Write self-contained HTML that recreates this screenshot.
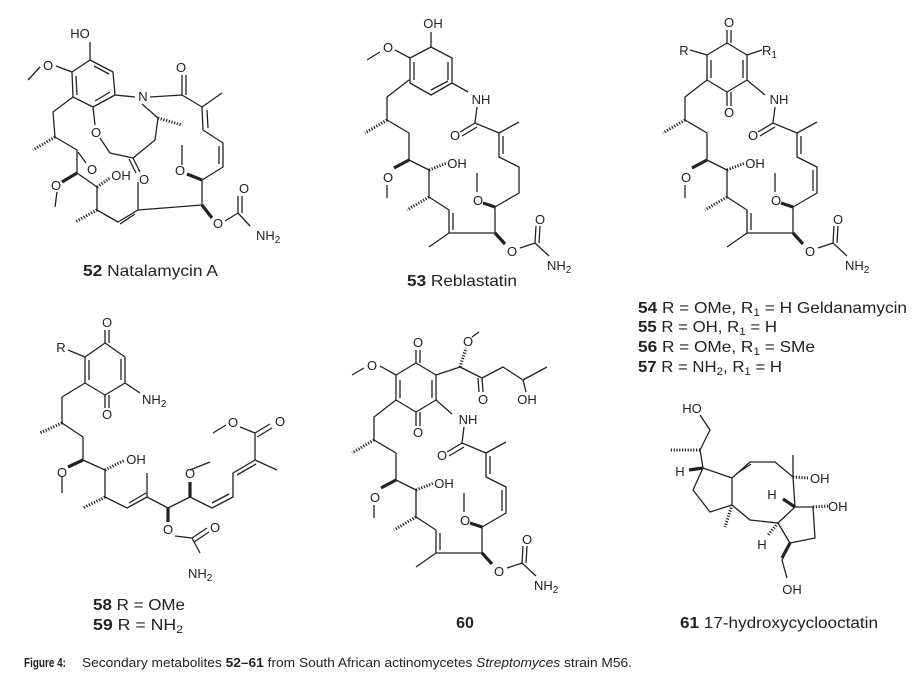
<!DOCTYPE html>
<html><head><meta charset="utf-8"><style>
html,body{margin:0;padding:0;background:#fff;}
svg{display:block;}
.b{stroke:#222;stroke-width:1.3;fill:none;stroke-linejoin:round;}
.h{stroke:#222;stroke-width:3;stroke-dasharray:1.2,1.6;fill:none;}
.w{stroke:#222;stroke-width:3.2;fill:none;}
text{font-family:"Liberation Sans",Arial,sans-serif;font-size:13px;fill:#222;}
.a{text-anchor:middle;}
.l{font-size:16px;}
</style></head><body>
<svg width="919" height="680" viewBox="0 0 919 680" xmlns="http://www.w3.org/2000/svg">
<rect width="919" height="680" fill="#fff"/>

<!-- ===== 52 Natalamycin A ===== -->
<g>
<path class="b" d="M90,60 L113,72 L115,95 L93,107 L73,97 L72,72 Z"/>
<path class="b" d="M94,66 L109,74 M110,92 L95,101 M77,95 L76,76"/>
<path class="b" d="M90,60 L90,42 M72,72 L56,66 M40,67 L28,80"/>
<path class="b" d="M115,95 L135,97 M150,97 L182,95 L202,107 L222,93 M182,95 L182,75 M186,95 L186,75"/>
<path class="b" d="M202,107 L203,130 L223,143 L223,167 L202,180 L202,205 L138,210 L118,222 L97,210 L97,187 L77,173 L77,150 L55,137 L53,112 L73,97"/>
<path class="b" d="M207,110 L208,128 M219,146 L219,164 M138,210 L138,182 M135,214 L120,224"/>
<path class="w" d="M202,180 L187,174 M202,205 L212,218 M77,173 L62,182"/>
<path class="b" d="M182,165 L182,145 M57,192 L55,207 M225,221 L238,213 L250,226 M238,213 L238,196 M242,213 L242,196"/>
<path class="h" d="M97,210 L75,222 M97,187 L110,178 M55,137 L33,150 M158,118 L182,125"/>
<path class="b" d="M93,107 L95,125 M100,138 L110,153 L133,158 L155,140 L158,118 L142,104 M133,158 L140,172 M129,159 L136,173"/>
<path class="b" d="M78,152 L86,163"/>
<text class="a" x="80" y="38">HO</text>
<text class="a" x="48" y="70">O</text>
<text class="a" x="143" y="101">N</text>
<text class="a" x="181" y="72">O</text>
<text class="a" x="96" y="137">O</text>
<text class="a" x="92" y="174">O</text>
<text class="a" x="121" y="180">OH</text>
<text class="a" x="144" y="184">O</text>
<text class="a" x="180" y="175">O</text>
<text class="a" x="56" y="190">O</text>
<text class="a" x="218" y="228">O</text>
<text class="a" x="244" y="193">O</text>
<text x="256" y="240">NH<tspan font-size="10" dy="3">2</tspan></text>
<text class="l" x="83" y="276" textLength="135" lengthAdjust="spacingAndGlyphs"><tspan font-weight="bold">52</tspan> Natalamycin A</text>
</g>

<!-- 54 -->
<g>
<path class="b" d="M727,43 L747,55 L747,80 L727,92 L707,80 L707,55 Z"/>
<path class="b" d="M743,60 L743,78 M711,60 L711,78 M727,43 L727,30 M731,43 L731,30 M727,92 L727,106 M731,92 L731,106 M707,55 L690,50 M747,55 L762,50 M747,80 L765,95"/>
<text class="a" x="729" y="27">O</text>
<text class="a" x="729" y="117">O</text>
<text class="a" x="684" y="55">R</text>
<text x="762" y="55">R<tspan font-size="10" dy="3">1</tspan></text>
<text class="a" x="779" y="104">NH</text>
<g>
<path class="b" d="M707,80 L685,97 L685,120 L707,133 L707,160 L727,170 L727,197 L747,210 L747,233 L793,233 L793,207 L817,193 L817,167 L797,157 L797,133 L773,123 L775,107"/>
<path class="b" d="M751,213 L751,230 M801,154 L801,136 M813,191 L813,170 M797,133 L817,122 M747,233 L727,247 M773,123 L758,132 M775,127 L760,136"/>
<path class="h" d="M685,120 L663,133 M727,197 L705,210 M727,170 L745,163"/>
<path class="w" d="M707,160 L692,168 M793,233 L803,244 M793,207 L781,203"/>
<path class="b" d="M685,185 L685,198 M775,192 L775,173 M818,248 L833,243 L847,256 M833,243 L834,226 M837,243 L838,226"/>
<text class="a" x="686" y="182">O</text>
<text class="a" x="776" y="205">O</text>
<text class="a" x="810" y="256">O</text>
<text class="a" x="838" y="224">O</text>
<text class="a" x="753" y="140">O</text>
<text class="a" x="755" y="168">OH</text>
<text x="845" y="270">NH<tspan font-size="10" dy="3">2</tspan></text>
</g>
<text class="l" x="638" y="313" textLength="269" lengthAdjust="spacingAndGlyphs"><tspan font-weight="bold">54</tspan> R = OMe, R<tspan font-size="11" dy="3">1</tspan><tspan dy="-3"> = H Geldanamycin</tspan></text>
<text class="l" x="638" y="332" textLength="139" lengthAdjust="spacingAndGlyphs"><tspan font-weight="bold">55</tspan> R = OH, R<tspan font-size="11" dy="3">1</tspan><tspan dy="-3"> = H</tspan></text>
<text class="l" x="638" y="352" textLength="177" lengthAdjust="spacingAndGlyphs"><tspan font-weight="bold">56</tspan> R = OMe, R<tspan font-size="11" dy="3">1</tspan><tspan dy="-3"> = SMe</tspan></text>
<text class="l" x="638" y="372" textLength="144" lengthAdjust="spacingAndGlyphs"><tspan font-weight="bold">57</tspan> R = NH<tspan font-size="11" dy="3">2</tspan><tspan dy="-3">, R</tspan><tspan font-size="11" dy="3">1</tspan><tspan dy="-3"> = H</tspan></text>
</g>

<!-- 53 -->
<g>
<path class="b" d="M431,47 L452,58 L452,83 L431,95 L410,83 L410,58 Z"/>
<path class="b" d="M448,62 L448,80 M414,62 L414,80 M431,90 L448,81 M431,47 L431,32 M410,58 L395,50 M380,52 L367,60 M452,83 L468,92"/>
<text class="a" x="433" y="28">OH</text>
<text class="a" x="388" y="52">O</text>
<g transform="translate(-298,0)">
<path class="b" d="M707,80 L685,97 L685,120 L707,133 L707,160 L727,170 L727,197 L747,210 L747,233 L793,233 L793,207 L817,193 L817,167 L797,157 L797,133 L773,123 L775,107"/>
<path class="b" d="M751,213 L751,230 M801,154 L801,136 M797,133 L817,122 M747,233 L727,247 M773,123 L758,132 M775,127 L760,136"/>
<path class="h" d="M685,120 L663,133 M727,197 L705,210 M727,170 L745,163"/>
<path class="w" d="M707,160 L692,168 M793,233 L803,244 M793,207 L781,203"/>
<path class="b" d="M685,185 L685,198 M775,192 L775,173 M818,248 L833,243 L847,256 M833,243 L834,226 M837,243 L838,226"/>
<text class="a" x="686" y="182">O</text>
<text class="a" x="776" y="205">O</text>
<text class="a" x="810" y="256">O</text>
<text class="a" x="838" y="224">O</text>
<text class="a" x="753" y="140">O</text>
<text class="a" x="755" y="168">OH</text>
<text x="845" y="270">NH<tspan font-size="10" dy="3">2</tspan></text>
<text class="a" x="779" y="104">NH</text>
</g>
<text class="l" x="407" y="286" textLength="110" lengthAdjust="spacingAndGlyphs"><tspan font-weight="bold">53</tspan> Reblastatin</text>
</g>

<!-- 60 -->
<g>
<path class="b" d="M416,363 L436,375 L436,400 L416,412 L396,400 L396,375 Z"/>
<path class="b" d="M432,380 L432,398 M400,380 L400,398 M416,363 L416,350 M420,363 L420,350 M416,412 L416,426 M420,412 L420,426 M396,375 L380,366 M364,368 L352,375 M436,400 L452,414"/>
<text class="a" x="418" y="347">O</text>
<text class="a" x="418" y="437">O</text>
<text class="a" x="372" y="370">O</text>
<path class="b" d="M436,375 L460,367 L482,378 L503,367 L523,380 L547,367 M482,378 L483,392 M478,378 L479,392 M472,337 L479,332 M523,380 L526,392"/>
<path class="h" d="M460,367 L466,348"/>
<text class="a" x="468" y="346">O</text>
<text class="a" x="483" y="404">O</text>
<text class="a" x="527" y="404">OH</text>
<g transform="translate(-311,320)">
<path class="b" d="M707,80 L685,97 L685,120 L707,133 L707,160 L727,170 L727,197 L747,210 L747,233 L793,233 L793,207 L817,193 L817,167 L797,157 L797,133 L773,123 L775,107"/>
<path class="b" d="M751,213 L751,230 M801,154 L801,136 M813,191 L813,170 M797,133 L817,122 M747,233 L727,247 M773,123 L758,132 M775,127 L760,136"/>
<path class="h" d="M685,120 L663,133 M727,197 L705,210 M727,170 L745,163"/>
<path class="w" d="M707,160 L692,168 M793,233 L803,244 M793,207 L781,203"/>
<path class="b" d="M685,185 L685,198 M775,192 L775,173 M818,248 L833,243 L847,256 M833,243 L834,226 M837,243 L838,226"/>
<text class="a" x="686" y="182">O</text>
<text class="a" x="776" y="205">O</text>
<text class="a" x="810" y="256">O</text>
<text class="a" x="838" y="224">O</text>
<text class="a" x="753" y="140">O</text>
<text class="a" x="755" y="168">OH</text>
<text x="845" y="270">NH<tspan font-size="10" dy="3">2</tspan></text>
<text class="a" x="779" y="104">NH</text>
</g>
<text class="l a" x="465" y="628" font-weight="bold">60</text>
</g>

<!-- ===== 58/59 ===== -->
<g>
<path class="b" d="M105,343 L125,357 L125,383 L105,395 L85,383 L85,357 Z"/>
<path class="b" d="M121,359 L121,380 M89,360 L89,380 M105,343 L105,330 M109,343 L109,330 M105,395 L105,408 M109,395 L109,408 M85,357 L68,350 M125,383 L140,393"/>
<text class="a" x="107" y="327">O</text>
<text class="a" x="107" y="419">O</text>
<text class="a" x="61" y="352">R</text>
<text x="142" y="404">NH<tspan font-size="10" dy="3">2</tspan></text>
<path class="b" d="M85,383 L62,397 L62,423 L83,437 L83,460 L105,470 L105,497 L127,508 L147,497 L168,508 L190,497 L212,508 L233,497 L233,473 L255,460 L255,433"/>
<path class="b" d="M129,503 L146,493 M212,503 L229,494 M237,475 L256,464 M147,497 L147,473 M255,460 L277,470 M255,433 L270,424 M257,437 L272,428 M255,433 L240,427 M226,425 L213,433 M62,476 L62,493 M190,470 L210,462"/>
<path class="h" d="M62,423 L40,433 M105,497 L83,508 M105,470 L125,460"/>
<path class="w" d="M83,460 L68,467 M168,508 L168,522 M190,497 L190,482"/>
<path class="b" d="M175,536 L192,538 L200,553 M192,538 L207,528 M194,542 L209,532"/>
<text class="a" x="62" y="477">O</text>
<text class="a" x="136" y="464">OH</text>
<text class="a" x="168" y="534">O</text>
<text class="a" x="190" y="478">O</text>
<text class="a" x="215" y="532">O</text>
<text class="a" x="280" y="426">O</text>
<text class="a" x="233" y="427">O</text>
<text x="188" y="578">NH<tspan font-size="10" dy="3">2</tspan></text>
<text class="l" x="93" y="610" textLength="92" lengthAdjust="spacingAndGlyphs"><tspan font-weight="bold">58</tspan> R = OMe</text>
<text class="l" x="93" y="630" textLength="90" lengthAdjust="spacingAndGlyphs"><tspan font-weight="bold">59</tspan> R = NH<tspan font-size="11" dy="3">2</tspan></text>
</g>

<!-- ===== 61 ===== -->
<g>
<path class="b" d="M700,415 L710,430 L700,450 L703,468"/>
<path class="b" d="M703,468 L732,478 L732,505 L710,512 L693,490 Z"/>
<path class="b" d="M732,478 L750,462 L775,462 L793,477 L795,507 L778,523 L750,520 L732,505 M736,474 L751,464"/>
<path class="b" d="M795,507 L813,507 L815,538 L790,543 L778,523 M793,477 L793,455 M790,543 L782,560 L787,578"/>
<path class="h" d="M700,450 L670,450 M793,477 L808,478 M813,507 L828,506 M732,505 L725,527 M778,523 L768,535"/>
<path class="w" d="M703,468 L689,470 M795,507 L783,499 M790,543 L782,558"/>
<text class="a" x="692" y="413">HO</text>
<text class="a" x="680" y="476">H</text>
<text x="810" y="483">OH</text>
<text x="828" y="511">OH</text>
<text class="a" x="772" y="499">H</text>
<text class="a" x="762" y="549">H</text>
<text class="a" x="792" y="594">OH</text>
<text class="l" x="680" y="628" textLength="198" lengthAdjust="spacingAndGlyphs"><tspan font-weight="bold">61</tspan> 17-hydroxycyclooctatin</text>
</g>

<!-- caption -->
<text x="24" y="667" font-size="12" font-weight="bold" textLength="42" lengthAdjust="spacingAndGlyphs">Figure 4:</text>
<text x="82" y="667" font-size="12" textLength="550" lengthAdjust="spacingAndGlyphs">Secondary metabolites <tspan font-weight="bold">52–61</tspan> from South African actinomycetes <tspan font-style="italic">Streptomyces</tspan> strain M56.</text>
</svg>
</body></html>
